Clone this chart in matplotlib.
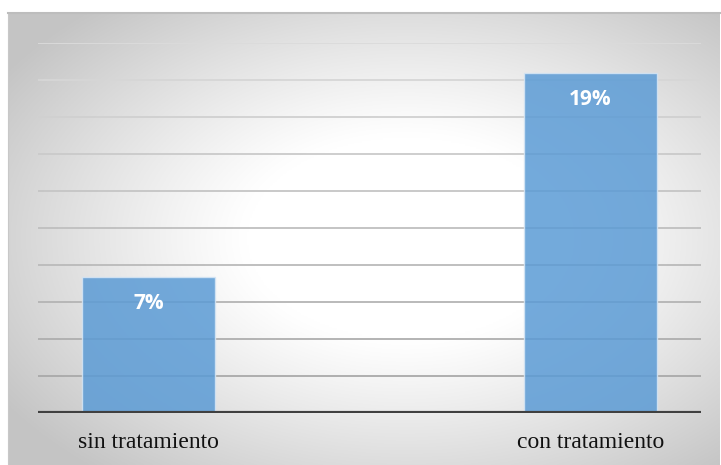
import numpy as np
import matplotlib
matplotlib.use("Agg")
import matplotlib.pyplot as plt

# data
categories = ["sin tratamiento", "con tratamiento"]
values = [0.0736, 0.184]
value_labels = ["7%", "19%"]
y_max = 0.20
y_step = 0.02

W, H = 721, 465
fig = plt.figure(figsize=(W / 100, H / 100), dpi=100)
fig.patch.set_facecolor("white")

# chart frame with radial grey gradient
bg = fig.add_axes([8 / W, 0, (720 - 8) / W, (H - 13) / H])
ny, nx = 300, 460
yy, xx = np.mgrid[0:1:ny * 1j, 0:1:nx * 1j]
r = np.sqrt(((xx - 0.56) / 0.75) ** 2 + ((yy - 0.5) / 0.75) ** 2)
t = np.clip((r - 0.3) / 0.6, 0, 1)
shade = 1 - 0.23 * t ** 1.1
img = np.dstack([shade, shade, shade])
bg.imshow(img, extent=[0, 1, 0, 1], aspect="auto", origin="lower")
bg.set_xticks([])
bg.set_yticks([])
for s in bg.spines.values():
    s.set_visible(False)
bg.spines["top"].set_visible(True)
bg.spines["top"].set_color("#bdbdbd")
bg.spines["top"].set_linewidth(1.5)
bg.spines["left"].set_visible(True)
bg.spines["left"].set_color("#c8c8c8")

ax = fig.add_axes([38 / W, 52 / H, (701 - 38) / W, 370 / H])
ax.patch.set_alpha(0)
x = np.arange(len(categories))
ax.set_xlim(-0.25, 1.25)
ax.set_ylim(0, y_max)
grid_y = np.arange(y_step, y_max + y_step / 2, y_step)
for gy in grid_y:
    g = 0.64 + 0.22 * gy / y_max
    ax.axhline(gy, color=(g, g, g), lw=1.3, zorder=1)

bars = ax.bar(x, values, width=0.30, color="#5b9bd5", alpha=0.85,
              edgecolor="#d6e6f5", linewidth=1, zorder=2)
for b, lab in zip(bars, value_labels):
    ax.annotate(lab, (b.get_x() + b.get_width() / 2, b.get_height()),
                xytext=(0, -27), textcoords="offset pixels",
                ha="center", va="center", color="white", fontsize=15,
                fontweight="bold", family="Open Sans", zorder=3)

ax.axhline(0, color="#404040", lw=3, zorder=4)
ax.set_yticks([])
ax.set_xticks(x)
ax.set_xticklabels(categories, family="Liberation Serif", fontsize=17, color="#111111")
ax.tick_params(axis="x", length=0, pad=14)
for s in ax.spines.values():
    s.set_visible(False)

fig.savefig("out.png", dpi=100)
